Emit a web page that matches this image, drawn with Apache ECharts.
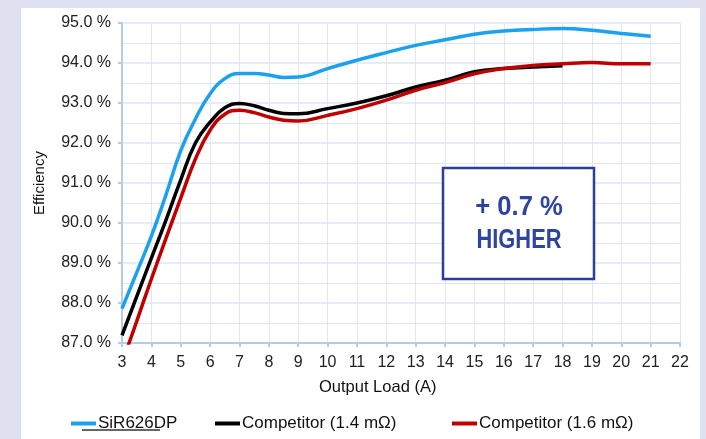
<!DOCTYPE html>
<html>
<head>
<meta charset="utf-8">
<script src="https://cdn.jsdelivr.net/npm/echarts@6/dist/echarts.min.js"></script>
<style>
  html, body { margin: 0; padding: 0; background: #dfe1f0; }
  #chart { width: 706px; height: 439px; }
</style>
</head>
<body>
<div id="chart"></div>
<script>
// output load (A)
const loadA = [3, 3.5, 4, 4.5, 5, 5.5, 6, 6.5, 7, 7.5, 8, 8.5, 9, 10, 11, 12, 13, 14, 15, 16, 17, 18, 19, 20, 21];
// efficiency (%)
const sir626dp = [87.86, 88.76, 89.67, 90.71, 91.81, 92.6, 93.23, 93.61, 93.74, 93.74, 93.7, 93.64, 93.65, 93.86, 94.07, 94.26, 94.44, 94.58, 94.72, 94.8, 94.84, 94.86, 94.82, 94.74, 94.67];
const comp14 = [87.19, 88.16, 89.12, 90.08, 91.08, 92.0, 92.52, 92.88, 92.99, 92.93, 92.82, 92.74, 92.73, 92.86, 93.0, 93.18, 93.4, 93.57, 93.78, 93.86, 93.9, 93.93];
const comp16 = [86.5, 87.54, 88.6, 89.62, 90.62, 91.6, 92.32, 92.72, 92.82, 92.76, 92.65, 92.57, 92.55, 92.69, 92.86, 93.07, 93.32, 93.51, 93.73, 93.86, 93.94, 93.98, 94.01, 93.98, 93.98];
const seriesNames = ['SiR626DP', 'Competitor (1.4 m\u03a9)', 'Competitor (1.6 m\u03a9)'];
const callout = ['+ 0.7 %', 'HIGHER'];

const pairs = (ys) => ys.map((v, i) => [loadA[i], v]);
const font = '"Liberation Sans", Arial, sans-serif';
const axisBlue = '#b8cbe4';
const gridBlue = '#dfe7f3';
const calloutBlue = '#2e45a0';

const chart = echarts.init(document.getElementById('chart'));

const legendAt = (name, left) => ({
  data: [name],
  left: left,
  top: 415,
  padding: 0,
  icon: 'rect',
  itemWidth: 25,
  itemHeight: 4,
  textStyle: { fontFamily: font, fontSize: 17, color: '#111', padding: [0, 0, 0, -3] },
  selectedMode: false
});

const lineSeries = (name, ys, color, z) => ({
  name: name, type: 'line', smooth: 0.45, showSymbol: false,
  data: pairs(ys), color: color,
  lineStyle: { width: 3.5 }, z: z
});

chart.setOption({
  animation: false,
  backgroundColor: '#dfe1f0',
  grid: { left: 122, right: 26, top: 23, bottom: 96 },
  legend: [
    legendAt(seriesNames[0], 71),
    legendAt(seriesNames[1], 215),
    legendAt(seriesNames[2], 452)
  ],
  xAxis: {
    type: 'value',
    min: 3, max: 22, interval: 1,
    axisLine: { lineStyle: { color: axisBlue, width: 2 } },
    axisTick: { show: true, length: 4, lineStyle: { color: axisBlue, width: 2 } },
    axisLabel: { margin: 12, fontFamily: font, fontSize: 16, color: '#222' },
    splitLine: { show: true, lineStyle: { color: gridBlue, width: 1 } }
  },
  yAxis: {
    type: 'value',
    min: 87, max: 95, interval: 1,
    name: 'Efficiency',
    nameLocation: 'middle',
    nameGap: 75,
    nameTextStyle: { fontFamily: font, fontSize: 15, color: '#111' },
    axisLine: { show: true, lineStyle: { color: axisBlue, width: 2 } },
    axisTick: { show: true, length: 4, lineStyle: { color: axisBlue, width: 2 } },
    axisLabel: { margin: 11, fontFamily: font, fontSize: 16, color: '#222', formatter: v => v.toFixed(1) + ' %' },
    splitLine: { show: true, lineStyle: { color: gridBlue, width: 1.5 } },
    minorTick: { show: false, splitNumber: 2 },
    minorSplitLine: { show: true, lineStyle: { color: gridBlue, width: 1 } }
  },
  series: [
    lineSeries(seriesNames[0], sir626dp, '#1ba1f0', 3),
    lineSeries(seriesNames[1], comp14, '#000000', 2),
    lineSeries(seriesNames[2], comp16, '#c00000', 2)
  ],
  graphic: [
    // white panel behind the chart
    { type: 'rect', z: -10, silent: true, shape: { x: 21, y: 8, width: 679, height: 440 }, style: { fill: '#ffffff' } },
    {
      type: 'text', left: 319, top: 379,
      style: { text: 'Output Load (A)', font: '16.5px ' + font, fill: '#111' }
    },
    // stray underline below the first legend entry
    { type: 'line', shape: { x1: 82, y1: 430, x2: 160, y2: 430 }, style: { stroke: '#666', lineWidth: 2 } },
    { type: 'rect', z: 100, shape: { x: 443, y: 168, width: 151, height: 111 }, style: { fill: '#fff', stroke: '#2b3f99', lineWidth: 2.5 } },
    { type: 'text', z: 101, x: 519, y: 208, scaleX: 0.95, style: { text: callout[0], font: 'bold 27px ' + font, fill: calloutBlue, textAlign: 'center', textVerticalAlign: 'middle' } },
    { type: 'text', z: 101, x: 519, y: 241, scaleX: 0.81, style: { text: callout[1], font: 'bold 27px ' + font, fill: calloutBlue, textAlign: 'center', textVerticalAlign: 'middle' } }
  ]
});
</script>
</body>
</html>
